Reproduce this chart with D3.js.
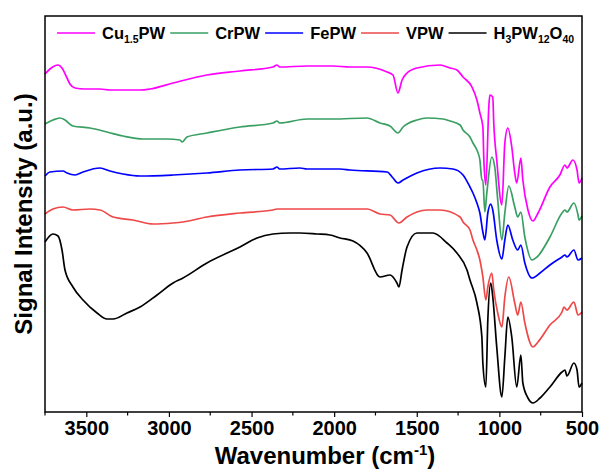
<!DOCTYPE html>
<meta charset="utf-8">

<style>
  body { margin: 0; background: #fff; }
  text { font-family: Arial, "Liberation Sans", sans-serif; font-weight: bold; }
</style>

<svg class="chart"></svg>

<script src="https://d3js.org/d3.v7.min.js"></script>
<script>

  // FTIR spectra, offset vertically (arbitrary units)
  var seriesNames  = ["Cu1.5PW", "CrPW", "FePW", "VPW", "H3PW12O40"];
  var seriesColors = ["#ff00ff", "#3a9f62", "#0000ff", "#ef4848", "#000000"];

  var cuWave = [3750, 3720, 3671, 3647, 3617, 3599, 3568, 3508, 3417, 3357, 3296, 3175, 3115, 2975, 2770, 2570, 2370, 2346, 2330, 2164, 2007, 1904, 1801, 1680, 1644, 1614, 1589, 1559, 1499, 1359, 1299, 1257, 1220, 1166, 1136, 1118, 1100, 1094, 1082, 1064, 1058, 1040, 1034, 1016, 985, 967, 949, 925, 907, 895, 870, 858, 827, 797, 766, 694, 634, 603, 591, 555, 530, 518, 500];
  var cuVal  = [338, 343, 347, 344, 334, 328, 324, 323, 323, 322, 322, 322, 323, 329, 337, 341, 345, 347, 345, 346, 346, 345, 345, 340, 337, 319, 332, 339, 344, 347, 344, 342, 335, 325, 312, 299, 285, 252, 227, 305, 317, 315, 289, 252, 207, 269, 284, 265, 239, 229, 254, 232, 202, 191, 199, 225, 237, 247, 244, 252, 242, 229, 234];

  var crWave = [3750, 3702, 3659, 3629, 3581, 3478, 3375, 3278, 3157, 3012, 2933, 2920, 2891, 2770, 2570, 2370, 2346, 2330, 2164, 2007, 1801, 1723, 1662, 1614, 1583, 1499, 1438, 1341, 1299, 1238, 1220, 1178, 1160, 1136, 1118, 1106, 1100, 1088, 1076, 1046, 1028, 1010, 985, 967, 943, 907, 889, 870, 846, 803, 772, 694, 621, 603, 591, 549, 524, 518, 500];
  var crVal  = [288, 292, 294, 292, 286, 284, 280, 276, 273, 273, 272, 270, 275, 279, 285, 289, 291, 289, 293, 293, 294, 289, 286, 279, 285, 292, 294, 293, 291, 287, 282, 275, 269, 262, 252, 232, 232, 200, 219, 255, 245, 212, 172, 199, 226, 205, 195, 200, 175, 152, 155, 175, 199, 202, 200, 209, 197, 192, 196];

  var feWave = [3750, 3720, 3641, 3617, 3568, 3520, 3417, 3357, 3278, 3175, 2975, 2770, 2570, 2370, 2346, 2330, 2207, 2164, 1965, 1904, 1680, 1644, 1614, 1583, 1499, 1359, 1281, 1220, 1178, 1160, 1136, 1118, 1100, 1088, 1070, 1052, 1040, 1016, 985, 967, 949, 919, 889, 870, 846, 803, 754, 694, 621, 603, 591, 549, 524, 500];
  var feVal  = [236, 240, 241, 239, 237, 240, 244, 241, 238, 236, 237, 239, 242, 243, 245, 243, 244, 243, 243, 242, 240, 234, 229, 232, 239, 244, 243, 237, 225, 219, 209, 199, 180, 172, 199, 208, 202, 172, 153, 172, 187, 172, 162, 167, 149, 134, 139, 147, 155, 157, 155, 162, 152, 154];

  var vWave = [3750, 3702, 3641, 3581, 3478, 3417, 3338, 3217, 3096, 2975, 2915, 2770, 2570, 2370, 2346, 2164, 1965, 1801, 1723, 1662, 1608, 1559, 1438, 1359, 1238, 1220, 1178, 1160, 1136, 1118, 1100, 1082, 1070, 1046, 1034, 1010, 985, 967, 943, 907, 889, 870, 846, 797, 766, 694, 621, 609, 591, 549, 524, 500];
  var vVal  = [198, 203, 205, 202, 203, 202, 195, 192, 188, 189, 190, 195, 199, 202, 203, 203, 203, 203, 198, 197, 189, 195, 202, 202, 195, 190, 182, 172, 162, 152, 135, 112, 125, 139, 122, 99, 85, 115, 135, 109, 97, 110, 89, 65, 70, 87, 100, 105, 102, 110, 97, 100];

  var hpwWave = [3750, 3702, 3671, 3647, 3629, 3581, 3520, 3435, 3375, 3338, 3254, 3175, 3072, 2975, 2915, 2770, 2570, 2467, 2370, 2267, 2207, 2104, 2025, 1965, 1886, 1801, 1723, 1662, 1620, 1608, 1589, 1559, 1499, 1402, 1317, 1257, 1196, 1178, 1136, 1106, 1100, 1082, 1070, 1052, 1040, 1016, 985, 967, 949, 925, 895, 870, 858, 827, 797, 754, 694, 621, 603, 591, 549, 530, 518, 500];
  var hpwVal  = [170, 178, 176, 162, 142, 125, 112, 99, 93, 93, 99, 105, 117, 129, 134, 149, 165, 174, 178, 179, 179, 178, 177, 174, 171, 159, 135, 137, 129, 125, 142, 165, 179, 179, 169, 159, 142, 132, 109, 75, 49, 25, 92, 129, 115, 65, 15, 55, 95, 75, 25, 57, 29, 14, 9, 14, 25, 40, 42, 36, 49, 42, 25, 29];

  var xTicks = [3500, 3000, 2500, 2000, 1500, 1000, 500];

  var allWaves = [cuWave, crWave, feWave, vWave, hpwWave];
  var allVals  = [cuVal, crVal, feVal, vVal, hpwVal];

  var width  = 602;
  var height = 470;
  var margin = { left: 45, right: 20, top: 16, bottom: 58 };

  var chart = d3.select(".chart")
      .attr("width", width)
      .attr("height", height);

  var x = d3.scaleLinear()
      .domain([3750, 500])
      .range([margin.left, width - margin.right]);

  var y = d3.scaleLinear()
      .domain([0, 396])
      .range([height - margin.bottom, margin.top]);

  var line = d3.line()
      .x(function(d) { return x(d[0]); })
      .y(function(d) { return y(d[1]); })
      .curve(d3.curveMonotoneX);

  // curves
  var curves = chart.append("g");
  for (var i = 0; i < allWaves.length; i++) {
    var pts = allWaves[i].map(function(w, j) { return [w, allVals[i][j]]; });
    curves.append("path")
        .attr("d", line(pts))
        .attr("fill", "none")
        .attr("stroke", seriesColors[i])
        .attr("stroke-width", 1.7)
        .attr("stroke-linejoin", "round");
  }

  // minor ticks between labelled ones
  var minor = d3.range(3750, 499, -250).filter(function(v) { return xTicks.indexOf(v) < 0; });
  chart.append("g")
      .attr("transform", "translate(0," + (height - margin.bottom) + ")")
      .selectAll("line")
      .data(minor)
      .enter().append("line")
          .attr("x1", function(d) { return x(d); })
          .attr("x2", function(d) { return x(d); })
          .attr("y2", 3.5)
          .attr("stroke", "#000")
          .attr("stroke-width", 1.2);

  var xAxis = chart.append("g")
      .attr("transform", "translate(0," + (height - margin.bottom) + ")")
      .call(d3.axisBottom(x).tickValues(xTicks).tickFormat(d3.format("d"))
        .tickSize(5).tickSizeOuter(0).tickPadding(4));

  xAxis.select(".domain").remove();
  xAxis.selectAll("line").attr("stroke-width", 1.2);
  xAxis.selectAll("text")
      .attr("font-size", 20)
      .attr("font-weight", "bold")
      .attr("font-family", "Arial, 'Liberation Sans', sans-serif")
      .attr("fill", "#000");

  // frame
  chart.append("rect")
      .attr("x", margin.left)
      .attr("y", margin.top)
      .attr("width", width - margin.left - margin.right)
      .attr("height", height - margin.top - margin.bottom)
      .attr("fill", "none")
      .attr("stroke", "#000")
      .attr("stroke-width", 1.5);

  // axis titles
  var xTitle = chart.append("text")
      .attr("x", 325)
      .attr("y", 464)
      .attr("text-anchor", "middle")
      .attr("font-size", 24);
  xTitle.append("tspan").text("Wavenumber (cm");
  xTitle.append("tspan").attr("dy", -9).attr("font-size", 15).text("-1");
  xTitle.append("tspan").attr("dy", 9).text(")");

  chart.append("text")
      .attr("transform", "translate(32," + (margin.top + (height - margin.top - margin.bottom) / 2) + ") rotate(-90)")
      .attr("text-anchor", "middle")
      .attr("font-size", 24)
      .text("Signal Intensity (a.u.)");

  // legend
  var legendLabels = [
    [["Cu", 0], ["1.5", 1], ["PW", 0]],
    [["CrPW", 0]],
    [["FePW", 0]],
    [["VPW", 0]],
    [["H", 0], ["3", 1], ["PW", 0], ["12", 1], ["O", 0], ["40", 1]]
  ];

  var legend = chart.append("g");
  var lx = 57;
  var ly = 33;
  legendLabels.forEach(function(parts, i) {
    legend.append("line")
        .attr("x1", lx).attr("x2", lx + 38)
        .attr("y1", ly).attr("y2", ly)
        .attr("stroke", seriesColors[i])
        .attr("stroke-width", 1.5);
    var t = legend.append("text")
        .attr("x", lx + 45)
        .attr("y", ly + 6)
        .attr("font-size", 16.5);
    var sub = false;
    parts.forEach(function(p) {
      var s = t.append("tspan").text(p[0]);
      if (p[1] && !sub) { s.attr("dy", 4).attr("font-size", 10.5); sub = true; }
      else if (!p[1] && sub) { s.attr("dy", -4); sub = false; }
      else if (p[1]) { s.attr("font-size", 10.5); }
    });
    lx = lx + 45 + t.node().getComputedTextLength() + 5;
  });

</script>
